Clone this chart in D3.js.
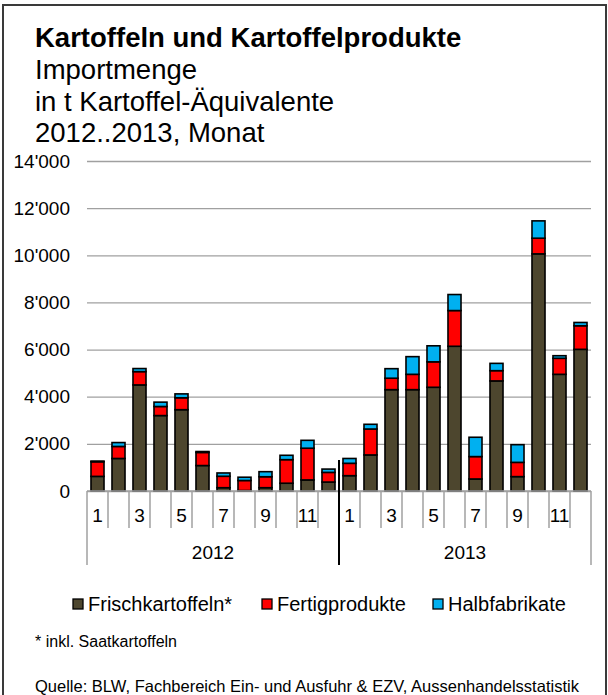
<!DOCTYPE html>
<html>
<head>
<meta charset="utf-8">
<script src="https://cdn.jsdelivr.net/npm/d3@7"></script>
<style>
  html, body { margin: 0; padding: 0; background: #fff; }
  svg { display: block; font-family: "Liberation Sans", Arial, sans-serif; }
</style>
</head>
<body>
<svg id="chart" width="608" height="695"></svg>
<script>
// ---- data ----
const years = ["2012", "2013"];
const months = ["1","2","3","4","5","6","7","8","9","10","11","12"];
const monthLabels = ["1","","3","","5","","7","","9","","11",""];
const seriesNames = ["Frischkartoffeln*", "Fertigprodukte", "Halbfabrikate"];
const seriesColors = ["#4d462e", "#ff0000", "#00b0f0"];
const frisch = [620, 1380, 4500, 3200, 3450, 1080, 140, 20, 140, 330, 470, 380,
                650, 1530, 4300, 4300, 4400, 6140, 510, 4670, 610, 10060, 4950, 6010];
const fertig = [620, 510, 565, 385, 505, 555, 485, 425, 465, 1000, 1345, 410,
                525, 1100, 485, 650, 1080, 1515, 950, 435, 605, 665, 680, 1000];
const halb   = [30, 165, 130, 185, 165, 40, 140, 140, 215, 185, 335, 140,
                205, 200, 405, 750, 680, 680, 820, 310, 750, 735, 110, 140];
const yTicks = [0, 2000, 4000, 6000, 8000, 10000, 12000, 14000];
const titleLines = ["Kartoffeln und Kartoffelprodukte", "Importmenge",
                    "in t Kartoffel-Äquivalente", "2012..2013, Monat"];
const footnote = "* inkl. Saatkartoffeln";
const source = "Quelle: BLW, Fachbereich Ein- und Ausfuhr & EZV, Aussenhandelsstatistik";

// ---- build table ----
const rows = [];
years.forEach((yr, yi) => months.forEach((m, mi) => {
  const i = yi * 12 + mi;
  rows.push({key: yr + "-" + m, year: yr, month: m, label: monthLabels[mi],
             s0: frisch[i], s1: fertig[i], s2: halb[i]});
}));

const svg = d3.select("#chart");
const pLeft = 87, pRight = 591, pTop = 161, pBottom = 491;

// frame
svg.append("rect").attr("x", 3).attr("y", 5).attr("width", 603).attr("height", 700)
  .attr("fill", "none").attr("stroke", "#3a3a3a").attr("stroke-width", 2);

// titles
const tBase = [47, 79, 111, 142];
titleLines.forEach((t, i) => {
  svg.append("text").attr("x", 35).attr("y", tBase[i])
    .attr("font-size", 27.5).attr("font-weight", i === 0 ? "bold" : "normal")
    .attr("fill", "#000").text(t);
});

// scales
const x = d3.scaleBand().domain(rows.map(d => d.key)).range([pLeft, pRight])
  .paddingInner(0.38).paddingOuter(0.19);
const y = d3.scaleLinear().domain([0, 14000]).range([pBottom, pTop]);

const loc = d3.formatLocale({decimal: ".", thousands: "'", grouping: [3], currency: ["", ""]});
const fmt = loc.format(",");

// y axis with gridlines
const yAxis = d3.axisLeft(y).tickValues(yTicks).tickFormat(fmt)
  .tickSizeInner(-(pRight - pLeft)).tickSizeOuter(0).tickPadding(17);
const gy = svg.append("g").attr("transform", `translate(${pLeft},0)`).call(yAxis);
gy.select(".domain").remove();
gy.selectAll(".tick line").attr("stroke", "#a0a0a0").attr("stroke-width", 1.3);
gy.selectAll(".tick text").attr("font-size", 19).attr("fill", "#000")
  .attr("font-family", "Liberation Sans, Arial, sans-serif");

// stacked bars
const stacked = d3.stack().keys(["s0", "s1", "s2"])(rows);
svg.append("g").selectAll("g").data(stacked).join("g")
  .attr("fill", (d, i) => seriesColors[i])
  .selectAll("rect").data(d => d).join("rect")
  .attr("x", d => x(d.data.key))
  .attr("width", x.bandwidth())
  .attr("y", d => y(d[1]))
  .attr("height", d => Math.max(0, y(d[0]) - y(d[1])))
  .attr("stroke", "#000").attr("stroke-width", 1.6);

// x axis baseline
svg.append("line").attr("x1", pLeft).attr("x2", pRight).attr("y1", pBottom).attr("y2", pBottom)
  .attr("stroke", "#a0a0a0").attr("stroke-width", 1.5);

// category boundaries (month level)
const step = x.step();
const half = (step - x.bandwidth()) / 2;
const bounds = d3.range(0, rows.length + 1).map(i =>
  i < rows.length ? x(rows[i].key) - half : x(rows[rows.length - 1].key) - half + step);
bounds.forEach((bx, i) => {
  if (i === 12) return;
  const outer = (i === 0 || i === rows.length);
  svg.append("line").attr("x1", bx).attr("x2", bx)
    .attr("y1", pBottom).attr("y2", outer ? 565 : 528)
    .attr("stroke", "#a0a0a0").attr("stroke-width", 1.5);
});
// year separator
svg.append("line").attr("x1", bounds[12]).attr("x2", bounds[12])
  .attr("y1", 460).attr("y2", 565).attr("stroke", "#000").attr("stroke-width", 2);

// month labels via axis
const xAxis = d3.axisBottom(x).tickSize(0).tickPadding(0)
  .tickFormat(k => rows.find(r => r.key === k).label);
const gx = svg.append("g").attr("transform", `translate(0,${pBottom})`).call(xAxis);
gx.select(".domain").remove();
gx.selectAll(".tick text").attr("font-size", 19).attr("fill", "#000")
  .attr("font-family", "Liberation Sans, Arial, sans-serif")
  .attr("dy", null).attr("y", 31);

// year labels
years.forEach((yr, yi) => {
  const x0 = bounds[yi * 12], x1 = bounds[yi * 12 + 12];
  svg.append("text").attr("x", (x0 + x1) / 2).attr("y", 559)
    .attr("text-anchor", "middle").attr("font-size", 19).attr("fill", "#000").text(yr);
});

// legend
const legX = [73, 262, 433];
seriesNames.forEach((n, i) => {
  svg.append("rect").attr("x", legX[i]).attr("y", 599).attr("width", 10).attr("height", 10)
    .attr("fill", seriesColors[i]).attr("stroke", "#000").attr("stroke-width", 1.3);
  svg.append("text").attr("x", legX[i] + 15).attr("y", 611).attr("font-size", 20)
    .attr("fill", "#000").text(n);
});

// footnote & source
svg.append("text").attr("x", 35).attr("y", 647).attr("font-size", 16).attr("fill", "#000").text(footnote);
svg.append("text").attr("x", 35).attr("y", 692).attr("font-size", 16.5).attr("fill", "#000").text(source);
</script>
</body>
</html>
